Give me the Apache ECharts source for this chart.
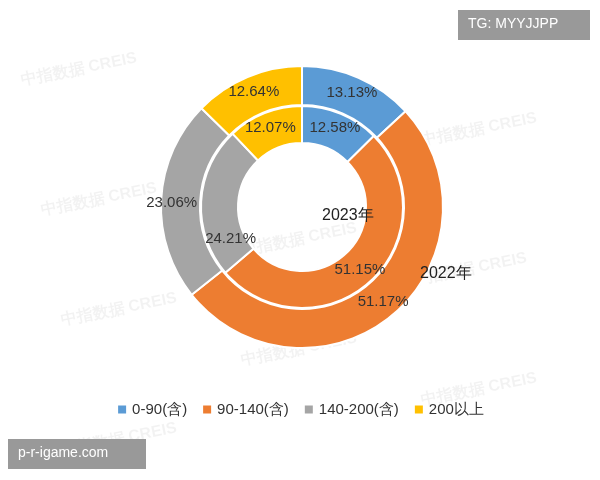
<!DOCTYPE html>
<html><head><meta charset="utf-8">
<script src="https://cdn.jsdelivr.net/npm/echarts@6/dist/echarts.min.js"></script>
<style>body{margin:0;background:#fff}#c{width:600px;height:480px}</style></head>
<body><div id="c"></div>
<script>
const categories = ['0-90(含)', '90-140(含)', '140-200(含)', '200以上'];
const values2022 = [13.13, 51.17, 23.06, 12.64];
const values2023 = [12.58, 51.15, 24.21, 12.07];
const colors = ['#5b9bd5', '#ed7d31', '#a5a5a5', '#ffc000'];

const chart = echarts.init(document.getElementById('c'));
const mk = (vals, offs) => categories.map((n, i) => {
  const d = {name: n, value: vals[i]};
  if (offs && offs[i]) d.label = {offset: offs[i]};
  return d;
});
const wm = [[80,60],[480,120],[100,190],[300,230],[470,260],[120,300],[300,340],[480,380],[120,430]];
const lbl = {position: 'inside', formatter: p => p.value.toFixed(2) + '%', fontSize: 15, color: '#333'};
chart.setOption({
  color: colors,
  legend: {
    bottom: 58, left: 'center', itemWidth: 10, itemHeight: 10, itemGap: 14,
    icon: 'rect', textStyle: {fontSize: 15, color: '#333'}
  },
  graphic: [
    ...wm.map(p => ({type: 'text', left: p[0]-60, top: p[1]-10, z: 0,
      style: {text: '中指数据 CREIS', fontSize: 16, fontWeight: 'bold', fill: 'rgba(0,0,0,0.05)'}, rotation: 0.2})),
    {type: 'group', right: 10, top: 10, children: [
      {type: 'rect', shape: {width: 132, height: 30}, style: {fill: '#999'}},
      {type: 'text', left: 10, top: 7, style: {text: 'TG: MYYJJPP', fontSize: 14, fill: '#fff'}}
    ]},
    {type: 'group', left: 8, top: 439, children: [
      {type: 'rect', shape: {width: 138, height: 30}, style: {fill: '#999'}},
      {type: 'text', left: 10, top: 7, style: {text: 'p-r-igame.com', fontSize: 14, fill: '#fff'}}
    ]},
    {type: 'text', left: 322, top: 208, z: 100, style: {text: '2023年', fontSize: 16, fill: '#222'}},
    {type: 'text', left: 420, top: 266, z: 100, style: {text: '2022年', fontSize: 16, fill: '#222'}}
  ],
  series: [
    {type: 'pie', center: [302, 207], radius: [102, 141], startAngle: 90, clockwise: true, z: 1,
     itemStyle: {borderColor: '#fff', borderWidth: 2}, labelLayout: {hideOverlap: false},
     label: lbl, data: mk(values2022, [null, null, [-6, 2], null])},
    {type: 'pie', center: [302, 207], radius: [64, 101], startAngle: 90, clockwise: true, z: 1,
     itemStyle: {borderColor: '#fff', borderWidth: 2}, labelLayout: {hideOverlap: false},
     label: lbl, data: mk(values2023, [null, null, [14, 36], null])}
  ]
});
</script></body></html>
